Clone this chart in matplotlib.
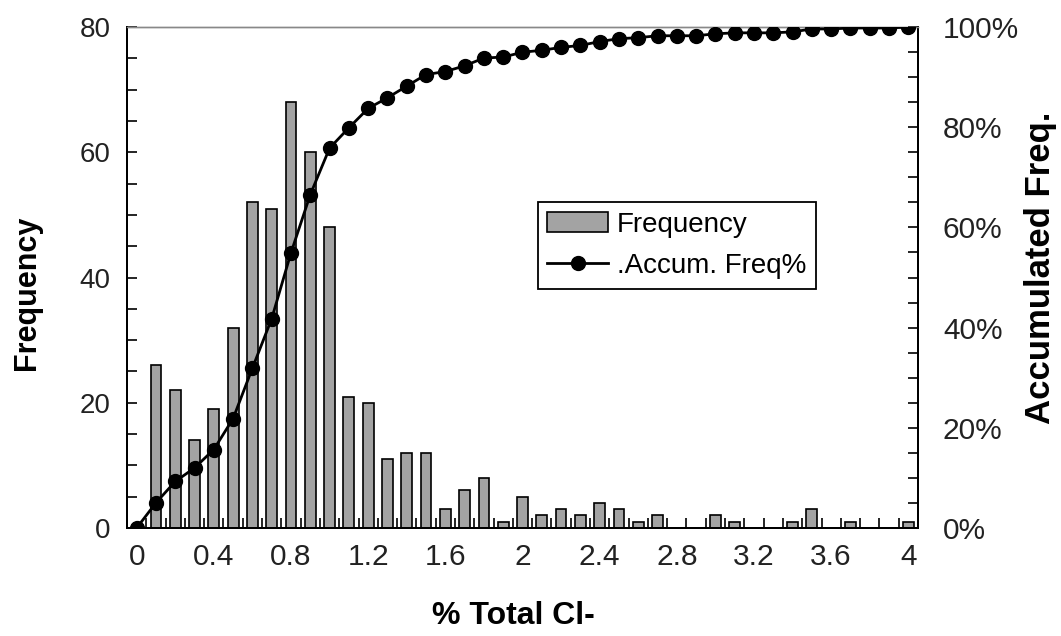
import numpy as np
import matplotlib
matplotlib.use("Agg")
import matplotlib.pyplot as plt
from matplotlib.ticker import MultipleLocator, FixedLocator, PercentFormatter

plt.rcParams['font.family'] = ['Liberation Sans', 'DejaVu Sans']

# bins of % Total Cl- (upper edge), counts
cl_bins = [0.1, 0.2, 0.3, 0.4, 0.5, 0.6, 0.7, 0.8, 0.9, 1.0,
           1.1, 1.2, 1.3, 1.4, 1.5, 1.6, 1.7, 1.8, 1.9, 2.0,
           2.1, 2.2, 2.3, 2.4, 2.5, 2.6, 2.7, 2.8, 2.9, 3.0,
           3.1, 3.2, 3.3, 3.4, 3.5, 3.6, 3.7, 3.8, 3.9, 4.0]
frequency = [26, 22, 14, 19, 32, 52, 51, 68, 60, 48,
             21, 20, 11, 12, 12, 3, 6, 8, 1, 5,
             2, 3, 2, 4, 3, 1, 2, 0, 0, 2,
             1, 0, 0, 1, 3, 0, 1, 0, 0, 1]
x_ticks = [0, 0.4, 0.8, 1.2, 1.6, 2, 2.4, 2.8, 3.2, 3.6, 4]
x_ticklabels = ['0', '0.4', '0.8', '1.2', '1.6', '2', '2.4', '2.8', '3.2', '3.6', '4']

# accumulated frequency in %, starting at 0
accum_x = [0.0] + cl_bins
accum_pct = [0.0] + list(np.cumsum(frequency) / np.sum(frequency) * 100)

fig = plt.figure(figsize=(10.61, 6.36), dpi=100)
ax = fig.add_axes([0.1197, 0.1698, 0.7455, 0.7877])
ax2 = ax.twinx()

bars = ax.bar(cl_bins, frequency, width=0.056, color='#a3a3a3',
              edgecolor='black', linewidth=1.2, zorder=2)
line, = ax2.plot(accum_x, accum_pct, color='black', lw=2, marker='o',
                 markersize=10, zorder=3)

ax.set_xlim(-0.05, 4.05)
ax.set_ylim(0, 80)
ax2.set_ylim(0, 100)

ax.xaxis.set_major_locator(FixedLocator(x_ticks))
ax.set_xticklabels(x_ticklabels)
ax.xaxis.set_minor_locator(FixedLocator(np.arange(0.05, 4.0, 0.1)))
ax.yaxis.set_major_locator(MultipleLocator(20))
ax.yaxis.set_minor_locator(MultipleLocator(5))
ax2.yaxis.set_major_locator(MultipleLocator(20))
ax2.yaxis.set_minor_locator(MultipleLocator(5))
ax2.yaxis.set_major_formatter(PercentFormatter(decimals=0))

ax.tick_params(axis='x', which='major', direction='in', length=0, labelsize=21.5, pad=11,
               labelcolor='#222222')
ax.tick_params(axis='x', which='minor', direction='in', length=7, width=1.2)
ax.tick_params(axis='y', which='both', direction='in', length=7, width=1.2, labelsize=20, pad=12,
               labelcolor='#222222')
ax2.tick_params(axis='y', which='both', direction='in', length=7, width=1.2, labelsize=21.5, pad=18,
                labelcolor='#222222')

for a in (ax, ax2):
    for s in a.spines.values():
        s.set_linewidth(1.4)
    a.spines['top'].set_color('#888888')
    a.spines['top'].set_linewidth(1.0)

ax.set_xlabel('% Total Cl-', fontsize=23, fontweight='bold', va='center')
ax.xaxis.set_label_coords(0.488, -0.176)
ax.set_ylabel('Frequency', fontsize=22, fontweight='bold', va='center')
ax.yaxis.set_label_coords(-0.127, 0.47)
ax2.set_ylabel('Accumulated Freq.', fontsize=25, fontweight='bold', va='center')
ax2.yaxis.set_label_coords(1.155, 0.52)

leg = ax2.legend([bars, line], ['Frequency', '.Accum. Freq%'],
                 loc='upper left', bbox_to_anchor=(0.519, 0.651),
                 fontsize=20, frameon=True, fancybox=False,
                 edgecolor='black', framealpha=1, borderpad=0.35,
                 handlelength=2.2, handletextpad=0.3, labelspacing=0.55,
                 borderaxespad=0)
leg.get_frame().set_linewidth(1.3)

fig.savefig('out.png', dpi=100)
